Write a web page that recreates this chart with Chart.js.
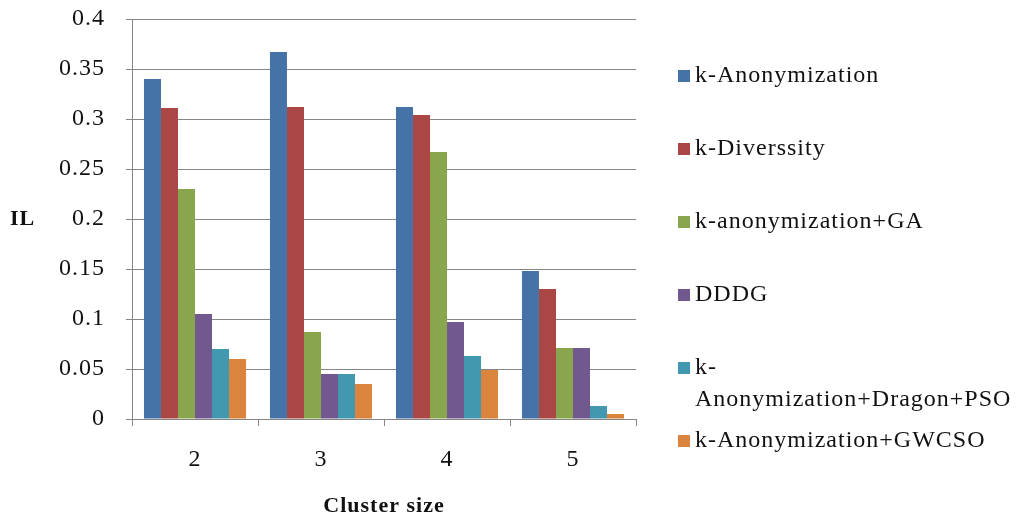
<!DOCTYPE html>
<html>
<head>
<meta charset="utf-8">
<script src="https://cdn.jsdelivr.net/npm/chart.js@4"></script>
<style>
  html, body { margin: 0; padding: 0; background: #ffffff; }
  #wrap { width: 1016px; height: 520px; position: relative; }
</style>
</head>
<body>
<div id="wrap"><canvas id="c"></canvas></div>
<script>
// Categories (cluster size)
const clusterSizes = ['2', '3', '4', '5'];

// Series names
const seriesNames = [
  'k-Anonymization',
  'k-Diverssity',
  'k-anonymization+GA',
  'DDDG',
  'k-Anonymization+Dragon+PSO',
  'k-Anonymization+GWCSO'
];

// Information loss per method
const kAnonymization = [0.340, 0.367, 0.312, 0.148];
const kDiverssity    = [0.311, 0.312, 0.304, 0.130];
const kAnonGA        = [0.230, 0.087, 0.267, 0.071];
const dddg           = [0.105, 0.045, 0.097, 0.071];
const kAnonDragonPSO = [0.070, 0.045, 0.063, 0.013];
const kAnonGWCSO     = [0.060, 0.035, 0.049, 0.005];

// Y axis tick labels
const yTickLabels = ['0', '0.05', '0.1', '0.15', '0.2', '0.25', '0.3', '0.35', '0.4'];

const seriesValues = [kAnonymization, kDiverssity, kAnonGA, dddg, kAnonDragonPSO, kAnonGWCSO];
const seriesColors = ['#4572A7', '#AA4643', '#89A54E', '#71588F', '#4198AF', '#DB843D'];

const SERIF = '"Liberation Serif", "Times New Roman", serif';
const TEXT = '#111111';
const GRID = '#868686';

// Right-hand legend and horizontal "IL" axis caption
const sideLegend = {
  id: 'sideLegend',
  beforeDraw(chart) {
    chart.ctx.letterSpacing = '1px';
  },
  afterDraw(chart) {
    const ctx = chart.ctx;
    ctx.save();
    ctx.letterSpacing = '1px';
    ctx.font = '24px ' + SERIF;
    ctx.textBaseline = 'middle';
    ctx.textAlign = 'left';
    const boxX = 678, box = 12, textX = 695, y0 = 75.5, step = 73, lineGap = 32.5;
    const maxW = chart.width - textX - 4;
    chart.data.datasets.forEach((ds, i) => {
      const y = y0 + i * step;
      ctx.fillStyle = ds.backgroundColor;
      ctx.fillRect(boxX, Math.round(y - box / 2), box, box);
      ctx.fillStyle = TEXT;
      let lines = [ds.label];
      if (ctx.measureText(ds.label).width > maxW) {
        const k = ds.label.indexOf('-') + 1;
        lines = [ds.label.slice(0, k), ds.label.slice(k)];
      }
      lines.forEach((t, j) => ctx.fillText(t, textX, y + j * lineGap));
    });
    ctx.font = 'bold 22px ' + SERIF;
    ctx.fillText('IL', 10, 219);
    ctx.restore();
  }
};

new Chart(document.getElementById('c'), {
  type: 'bar',
  data: {
    labels: clusterSizes,
    datasets: seriesNames.map((name, i) => ({
      label: name,
      data: seriesValues[i],
      backgroundColor: seriesColors[i],
      borderWidth: 0,
      categoryPercentage: 0.81,
      barPercentage: 1.0
    }))
  },
  options: {
    responsive: true,
    maintainAspectRatio: false,
    animation: false,
    layout: { padding: { top: 19, right: 380, bottom: 0, left: 0 } },
    plugins: {
      legend: { display: false },
      tooltip: { enabled: false }
    },
    scales: {
      x: {
        grid: { drawOnChartArea: false, drawTicks: true, tickLength: 7, color: GRID, offset: true },
        border: { color: GRID, width: 1 },
        ticks: { font: { family: SERIF, size: 24 }, color: TEXT, padding: 19, maxRotation: 0 },
        title: {
          display: true,
          text: 'Cluster size',
          font: { family: SERIF, size: 22, weight: 'bold' },
          color: TEXT,
          padding: { top: 0, bottom: 0 }
        },
        afterFit(scale) { scale.height = 101; }
      },
      y: {
        min: 0,
        max: 0.4,
        ticks: {
          stepSize: 0.05,
          font: { family: SERIF, size: 24 },
          color: TEXT,
          padding: 21,
          callback: (v, i) => yTickLabels[i]
        },
        grid: { color: GRID, tickLength: 6, lineWidth: 1 },
        border: { color: GRID, width: 1 },
        afterFit(scale) {
          scale.width = 132;
          scale.paddingTop = 0;
          scale.paddingBottom = 0;
        }
      }
    }
  },
  plugins: [sideLegend]
});
</script>
</body>
</html>
